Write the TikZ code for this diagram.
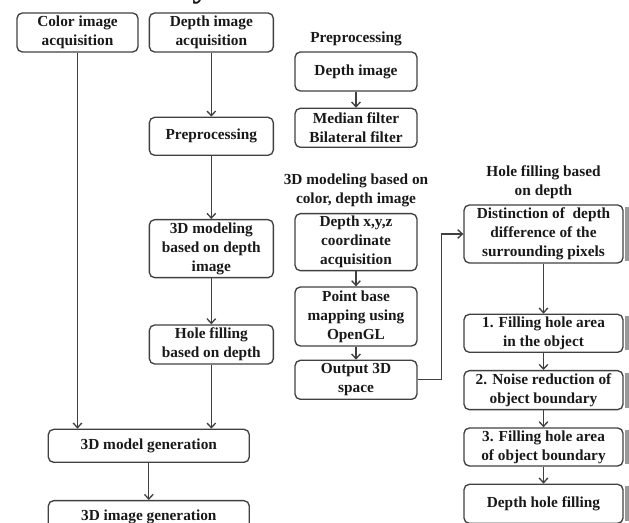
\documentclass[tikz,border=0pt]{standalone}
\usepackage{fontspec}
\setmainfont{Liberation Serif}
\usetikzlibrary{
    positioning,      % For placing nodes relative to each other
    arrows.meta       % For the arrow tips
}

\begin{document}
\begin{tikzpicture}[
    % One unit is one pixel of the page
    x=0.75pt, y=-0.75pt,
    % Style for the rounded boxes
    box/.style={
        draw=black!75,
        line width=1pt,
        rounded corners=4pt,
        align=center,
        inner sep=1pt,
        font=\fontsize{11.5}{14.25}\selectfont\bfseries,
        text=black!90,
        minimum width=93pt,
        minimum height=29.25pt
    },
    % Style for the headings above the detail columns
    head_style/.style={
        align=center,
        inner sep=0pt,
        font=\fontsize{11.5}{14.25}\selectfont\bfseries,
        text=black!90
    },
    % Style for the connectors
    flow/.style={
        draw=black!75,
        line width=1pt,
        -{Straight Barb[length=3.5pt, width=6.5pt]}
    },
    % Style for the grey strips at the right edge
    strip/.style={
        fill=black!40
    }
]
    \useasboundingbox (0,0) rectangle (629,523);
    \clip (0,0) rectangle (629,523);

    % 1. The cut page heading.
    \node[anchor=base west, inner sep=0pt, font=\fontsize{27}{30}\selectfont\bfseries, text=black!90]
        (title) at (3,-3) {2\hspace{0.5em}Main Body};

    % 2. Main flow on the left.
    \node[box, minimum width=90.75pt] (color_acq) at (77.5,32.5) {Color image\\acquisition};
    \node[box, right=7.5pt of color_acq] (depth_acq) {Depth image\\acquisition};
    \node[box, below=48pt of depth_acq, minimum height=28.5pt] (preproc) {Preprocessing};
    \node[box, below=47.25pt of preproc, minimum height=43.5pt] (modeling) {3D modeling\\based on depth\\image};
    \node[box, below=34.5pt of modeling] (hole_fill) {Hole filling\\based on depth};
    \node[box, below=48pt of hole_fill, xshift=-46.9pt, minimum width=150.75pt, minimum height=24.75pt] (model_gen) {3D model generation};
    \node[box, below=27.75pt of model_gen, minimum width=150.75pt, minimum height=24.75pt] (image_gen) {3D image generation};

    % 3. Preprocessing detail.
    \node[box, minimum width=91.5pt] (depth_img) at (356,71.5) {Depth image};
    \node[head_style, above=4pt of depth_img] (preproc_head) {Preprocessing};
    \node[box, below=12pt of depth_img, minimum width=91.5pt] (filters) {Median filter\\Bilateral filter};

    % 4. 3D modeling detail.
    \node[box, below=48.75pt of filters, minimum width=91.5pt, minimum height=42.75pt] (xyz_acq) {Depth x,y,z\\coordinate\\acquisition};
    \node[head_style, above=4.5pt of xyz_acq] (modeling_head) {3D modeling based on\\color, depth image};
    \node[box, below=11.25pt of xyz_acq, minimum width=91.5pt, minimum height=44.25pt] (point_map) {Point base\\mapping using\\OpenGL};
    \node[box, below=9.75pt of point_map, minimum width=91.5pt] (output_space) {Output 3D\\space};

    % 5. Hole filling detail.
    \node[box, minimum width=119.25pt, minimum height=43.5pt] (distinction) at (543.5,234) {Distinction of~ depth\\difference of the\\surrounding pixels};
    \node[head_style, above=4pt of distinction] (hole_head) {Hole filling based\\on depth};
    \node[box, below=37.5pt of distinction, minimum width=119.25pt, minimum height=28.5pt] (fill_inner) {1. Filling hole area\\in the object};
    \node[box, below=12.75pt of fill_inner, minimum width=119.25pt] (noise_red) {2. Noise reduction of\\object boundary};
    \node[box, below=12.75pt of noise_red, minimum width=119.25pt, minimum height=28.5pt] (fill_bound) {3. Filling hole area\\of object boundary};
    \node[box, below=12.75pt of fill_bound, minimum width=119.25pt] (depth_fill) {Depth hole filling};

    % grey strips cut by the right edge
    \foreach \n in {distinction, fill_inner, noise_red, fill_bound, depth_fill}
        \fill[strip] ([xshift=1pt, yshift=-2pt]\n.north east) rectangle ([xshift=8pt, yshift=2pt]\n.south east);

    % 6. Connectors.
    \draw[flow] (color_acq.south) -- (color_acq.south |- model_gen.north);
    \draw[flow] (depth_acq) -- (preproc);
    \draw[flow] (preproc) -- (modeling);
    \draw[flow] (modeling) -- (hole_fill);
    \draw[flow] (hole_fill.south) -- (hole_fill.south |- model_gen.north);
    \draw[flow] (model_gen) -- (image_gen);

    \draw[flow] (depth_img) -- (filters);
    \draw[flow] (xyz_acq) -- (point_map);
    \draw[flow] (point_map) -- (output_space);
    \draw[flow] (output_space.east) -- ++(18pt,0) |- (distinction.west);

    \draw[flow] (distinction) -- (fill_inner);
    \draw[flow] (fill_inner) -- (noise_red);
    \draw[flow] (noise_red) -- (fill_bound);
    \draw[flow] (fill_bound) -- (depth_fill);

\end{tikzpicture}
\end{document}
